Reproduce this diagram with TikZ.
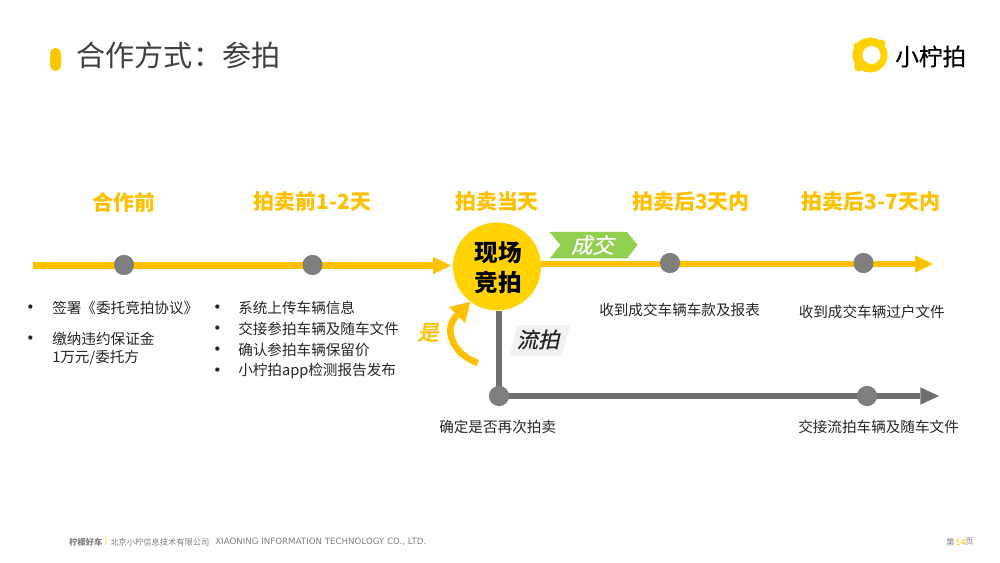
\documentclass[tikz,border=0pt]{standalone}
\usepackage{fontspec}
\setmainfont{Noto Sans CJK SC}
\newfontfamily\cjkslant[FakeSlant=0.22,FakeBold=0.7]{Noto Sans CJK SC}
\newfontfamily\cjkslantb[FakeSlant=0.22,FakeBold=2]{Noto Sans CJK SC}
\newfontfamily\cjklogo[FakeBold=0.4]{Noto Sans CJK SC}
\newfontfamily\latinfoot{DejaVu Sans}
\usetikzlibrary{arrows.meta,calc}
\definecolor{ylw}{HTML}{FFC000}
\definecolor{gold}{HTML}{FFD200}
\definecolor{greyline}{HTML}{6E6E6E}
\definecolor{greydot}{HTML}{7F7F7F}
\definecolor{tagreen}{HTML}{92D050}
\definecolor{txt}{HTML}{262626}
\definecolor{titletxt}{HTML}{404040}
\definecolor{foot}{HTML}{7F7F7F}
\tikzset{
  x=0.75pt,y=-0.75pt,
  heading/.style={text=ylw,font=\fontsize{15.7pt}{15.7pt}\selectfont\bfseries,inner sep=0pt,anchor=center},
  body/.style={text=txt,font=\fontsize{10.95pt}{10.95pt}\selectfont,inner sep=0pt,anchor=west},
  bullet/.style={text=txt,font=\fontsize{11pt}{11pt}\latinfoot,inner sep=0pt,anchor=center},
  dotnode/.style={circle,fill=greydot,minimum size=20*0.75pt,inner sep=0pt},
  yline/.style={draw=ylw,line width=4.6pt,-{Triangle[length=13.5pt,width=13pt,line width=0pt]}},
  gline/.style={draw=greyline,line width=4.6pt},
  footer/.style={text=foot,inner sep=0pt,anchor=west},
}
\begin{document}
\begin{tikzpicture}
\useasboundingbox (0,0) rectangle (1000,563);
\fill[white] (0,0) rectangle (1000,563);

% title
\fill[ylw!60!gold,rounded corners=4pt] (50,48) rectangle (61,71);
\node[inner sep=0pt,anchor=west,text=titletxt,font=\fontsize{21.8pt}{21.8pt}\selectfont] (title) at (76.5,55) {合作方式：参拍};

% logo
\fill[gold] (870,55) circle[radius=17.5];
\fill[gold] (881,44) circle[radius=4.5];
\fill[gold] (859,66.5) circle[radius=5];
\fill[gold] (857,46) circle[radius=3.5];
\fill[white] (871.5,55) circle[radius=9];
\node[inner sep=0pt,anchor=west,text=black,font=\fontsize{17.7pt}{17.7pt}\cjklogo] (logo) at (895,56.5) {小柠拍};

% headings
\node[heading] (h1) at (124,202) {合作前};
\node[heading] (h2) at (312.5,202) {拍卖前1-2天};
\node[heading] (h3) at (497,202) {拍卖当天};
\node[heading] (h4) at (691,202) {拍卖后3天内};
\node[heading] (h5) at (871,202) {拍卖后3-7天内};

% nodes
\coordinate (start) at (33,265.5);
\coordinate (endA) at (451,265.5);
\coordinate (endB) at (933,264);
\coordinate (endC) at (939,396);
\node[circle,fill=gold,minimum size=88*0.75pt,inner sep=0pt] (live) at (497,266.5) {};
\node[dotnode] (d1) at (124,265) {};
\node[dotnode] (d2) at (312.5,265) {};
\node[dotnode] (d3) at (670,263) {};
\node[dotnode] (d4) at (863.5,263) {};
\node[dotnode] (d5) at (499,396) {};
\node[dotnode] (d6) at (867,396) {};

% connectors
\draw[gline] (live.south -| d5) -- (d5.center);
\draw[gline,-{Triangle[length=14pt,width=13pt,line width=0pt]}] (d5.center) -- (endC);
\draw[yline] (start) -- (endA);
\draw[yline] (live.east |- endB) -- (endB);
% dots stay above the lines
\node[dotnode] at (d1) {};
\node[dotnode] at (d2) {};
\node[dotnode] at (d3) {};
\node[dotnode] at (d4) {};
\node[dotnode] at (d5) {};
\node[dotnode] at (d6) {};
\node[inner sep=0pt,align=center,text=black,font=\fontsize{17.7pt}{22.5pt}\selectfont\bfseries] (livelabel) at (498,267.5) {现场\\竞拍};

% retry arrow
\coordinate (retry) at (478,363);
\draw[draw=ylw,line width=4.9pt,-{Triangle[length=14pt,width=17pt,line width=0pt]}] (retry) .. controls (456,356) and (441,331) .. (live.233);
\node[inner sep=0pt,text=ylw,font=\fontsize{15.8pt}{15.8pt}\cjkslantb] (yes) at (428,332.5) {是};

% green tag
\fill[tagreen] (549.5,232) -- (627,232) -- (637.5,245) -- (627,258.5) -- (549.5,258.5) -- (560.5,245) -- cycle;
\node[inner sep=0pt,text=white,font=\fontsize{16pt}{16pt}\cjkslant] (deal) at (592.5,245) {成交};

% grey tag
\fill[black!5] (517,325) -- (570,325) -- (562,355.5) -- (510,355.5) -- cycle;
\node[inner sep=0pt,text=txt,font=\fontsize{16pt}{16pt}\cjkslant] (fail) at (538,339.5) {流拍};

% left bullets
\node[bullet] (b1) at (30.5,309) {•};
\node[body] (t1) at (52,307.5) {签署《委托竞拍协议》};
\node[bullet] (b2) at (30.5,340) {•};
\node[body] (t2) at (52,338.5) {缴纳违约保证金};
\node[body] (t2b) at (52,358) {1万元/委托方};

\node[bullet] (b3) at (217.5,309) {•};
\node[body] (t3) at (238,307.5) {系统上传车辆信息};
\node[bullet] (b4) at (217.5,330) {•};
\node[body] (t4) at (238,328.5) {交接参拍车辆及随车文件};
\node[bullet] (b5) at (217.5,351) {•};
\node[body] (t5) at (238,349.5) {确认参拍车辆保留价};
\node[bullet] (b6) at (217.5,372) {•};
\node[body] (t6) at (238,370.5) {小柠拍app检测报告发布};

\node[body] (t7) at (599,309.5) {收到成交车辆车款及报表};
\node[body] (t8) at (798.5,311.5) {收到成交车辆过户文件};
\node[body] (t9) at (439,427) {确定是否再次拍卖};
\node[body] (t10) at (798,427) {交接流拍车辆及随车文件};

% footer
\node[footer,font=\fontsize{6.2pt}{6.2pt}\selectfont\bfseries] (f1) at (69,542) {柠檬好车};
\node[footer,text=ylw,font=\fontsize{6.2pt}{6.2pt}\selectfont] (f2) at (104.5,541.5) {|};
\node[footer,font=\fontsize{6.2pt}{6.2pt}\selectfont] (f3) at (110,542) {北京小柠信息技术有限公司};
\node[footer,font=\fontsize{6.5pt}{6.5pt}\latinfoot] (f4) at (215,542) {XIAONING INFORMATION TECHNOLOGY CO., LTD.};
\node[footer,font=\fontsize{6.2pt}{6.2pt}\selectfont] (p1) at (946,542) {第};
\node[footer,text=ylw,font=\fontsize{6.4pt}{6.4pt}\latinfoot] (p2) at (955,542) {14};
\node[footer,font=\fontsize{6.2pt}{6.2pt}\selectfont] (p3) at (965,542) {页};
\end{tikzpicture}
\end{document}
